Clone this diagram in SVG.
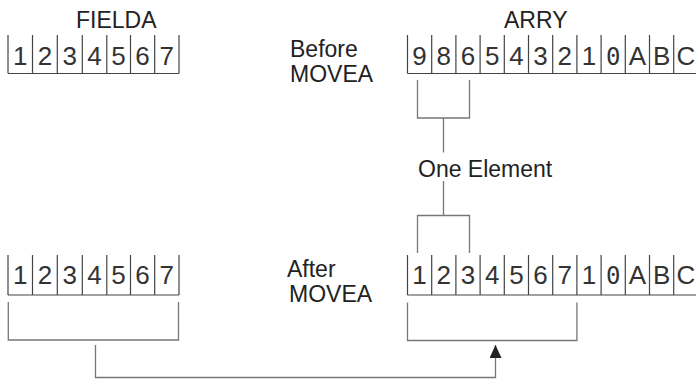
<svg xmlns="http://www.w3.org/2000/svg" width="696" height="379" viewBox="0 0 696 379">
<style>
  .lbl { font-family: "Liberation Sans", Arial, sans-serif; font-size: 23px; fill: #222; }
  .dig { font-family: "Liberation Sans", Arial, sans-serif; font-size: 26px; fill: #333; text-anchor: middle; }
  .zero { font-family: "DejaVu Sans Mono", monospace; font-size: 24px; }
  .cell { fill: none; stroke: #444; stroke-width: 1.2; }
  .conn { fill: none; stroke: #777; stroke-width: 1.3; }
</style>
<defs>
  <marker id="arr" viewBox="0 0 13 12" refX="13" refY="6" markerWidth="13" markerHeight="12" markerUnits="userSpaceOnUse" orient="auto">
    <path d="M0,0 L13,6 L0,12 Z" fill="#222"/>
  </marker>
</defs>
<rect width="696" height="379" fill="#fff"/>

<g id="fielda-before">
  <text class="lbl" x="76" y="28">FIELDA</text>
  <path class="cell" d="M8,35V73.5M32.5,35V73.5M57.3,35V73.5M82.3,35V73.5M106.8,35V73.5M130.5,35V73.5M154.7,35V73.5M179,35V73.5M8,73.5H179"/>
  <text class="dig" y="65"><tspan x="20.2">1</tspan><tspan x="44.9">2</tspan><tspan x="69.8">3</tspan><tspan x="94.5">4</tspan><tspan x="118.6">5</tspan><tspan x="142.6">6</tspan><tspan x="166.8">7</tspan></text>
</g>

<g id="arry-before">
  <text class="lbl" x="504" y="28">ARRY</text>
  <text class="lbl" x="290" y="57">Before</text>
  <text class="lbl" x="290" y="82">MOVEA</text>
  <path class="cell" d="M407.5,35V73.5M431.7,35V73.5M455.9,35V73.5M480.1,35V73.5M504.3,35V73.5M528.5,35V73.5M552.7,35V73.5M576.9,35V73.5M601.1,35V73.5M625.3,35V73.5M649.5,35V73.5M673.7,35V73.5M407.5,73.5H696"/>
  <text class="dig" y="65"><tspan x="419.6">9</tspan><tspan x="443.8">8</tspan><tspan x="468">6</tspan><tspan x="492.2">5</tspan><tspan x="516.4">4</tspan><tspan x="540.6">3</tspan><tspan x="564.8">2</tspan><tspan x="589">1</tspan><tspan x="613.2" class="zero">0</tspan><tspan x="637.4">A</tspan><tspan x="661.6">B</tspan><tspan x="685.8">C</tspan></text>
</g>

<g id="one-element">
  <text class="lbl" x="418" y="177">One Element</text>
</g>

<g id="fielda-after">
  <path class="cell" d="M8,255V295M32.5,255V295M57.3,255V295M82.3,255V295M106.8,255V295M130.5,255V295M154.7,255V295M179,255V295M8,295H179"/>
  <text class="dig" y="284"><tspan x="20.2">1</tspan><tspan x="44.9">2</tspan><tspan x="69.8">3</tspan><tspan x="94.5">4</tspan><tspan x="118.6">5</tspan><tspan x="142.6">6</tspan><tspan x="166.8">7</tspan></text>
</g>

<g id="arry-after">
  <text class="lbl" x="287" y="276.5">After</text>
  <text class="lbl" x="289" y="301.5">MOVEA</text>
  <path class="cell" d="M407.5,255V295M431.7,255V295M455.9,255V295M480.1,255V295M504.3,255V295M528.5,255V295M552.7,255V295M576.9,255V295M601.1,255V295M625.3,255V295M649.5,255V295M673.7,255V295M407.5,295H696"/>
  <text class="dig" y="284"><tspan x="419.6">1</tspan><tspan x="443.8">2</tspan><tspan x="468">3</tspan><tspan x="492.2">4</tspan><tspan x="516.4">5</tspan><tspan x="540.6">6</tspan><tspan x="564.8">7</tspan><tspan x="589">1</tspan><tspan x="613.2" class="zero">0</tspan><tspan x="637.4">A</tspan><tspan x="661.6">B</tspan><tspan x="685.8">C</tspan></text>
</g>

<g id="connectors">
  <path class="conn" d="M417.5,80V118H469.5V80M443.5,118V152.5"/>
  <path class="conn" d="M443.5,181V215.5M417.5,253V215.5H469.5V253"/>
  <path class="conn" d="M8.3,302V340H178.5V302"/>
  <path class="conn" d="M407.5,302.5V340.5H576.9V302.5"/>
  <path class="conn" d="M95.5,345V377.5H495.5V345" marker-end="url(#arr)"/>
</g>
</svg>
